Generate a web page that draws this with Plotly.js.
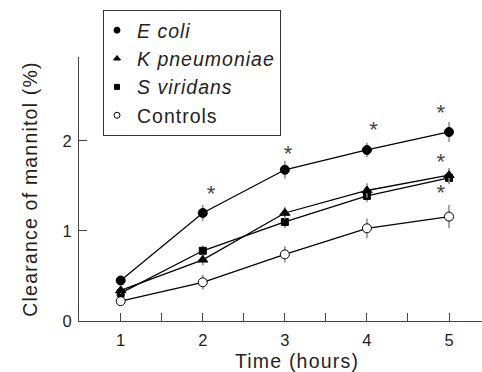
<!DOCTYPE html>
<html>
<head>
<meta charset="utf-8">
<script src="https://cdn.plot.ly/plotly-3.0.1.min.js"></script>
<style>
  html, body { margin: 0; padding: 0; overflow: hidden; background: #fff; }
  #chart { width: 515px; height: 372px; }
  .xtitle, .ytitle { letter-spacing: 1.2px; }
  .legendtext { letter-spacing: 1px; }
</style>
</head>
<body>
<div id="chart"></div>
<script>
// ---- data ----
const hours = [1, 2, 3, 4, 5];
const ecoli = [0.45, 1.20, 1.68, 1.90, 2.10];
const ecoliErr = [0.05, 0.09, 0.10, 0.08, 0.11];
const kpneumoniae = [0.34, 0.68, 1.20, 1.45, 1.62];
const kpneumoniaeErr = [0.04, 0.06, 0.07, 0.08, 0.08];
const sviridans = [0.31, 0.78, 1.10, 1.39, 1.59];
const sviridansErr = [0.04, 0.06, 0.07, 0.07, 0.07];
const controls = [0.22, 0.43, 0.74, 1.03, 1.16];
const controlsErr = [0.04, 0.08, 0.09, 0.11, 0.13];
// significance markers (asterisks)
const starX = [2.1, 3.04, 4.08, 4.9, 4.9, 4.9];
const starY = [1.39, 1.84, 2.11, 2.29, 1.75, 1.41];
const xTickVals = [1, 2, 3, 4, 5];
const yTickVals = [0, 1, 2];

const FONT = '"Liberation Sans", Arial, Helvetica, sans-serif';
const TXT = '#231f20';

function series(name, y, err, symbol, size, fill) {
  return {
    type: 'scatter', mode: 'lines+markers', name: name,
    x: hours, y: y, showlegend: false,
    line: {color: '#000', width: 1.3},
    marker: {symbol: symbol, size: size, color: fill, line: {color: '#000', width: 1}},
    error_y: {type: 'data', array: err, visible: true, color: '#8a8a8a', thickness: 1.5, width: 0}
  };
}
function legendEntry(name, symbol, size, fill) {
  return {
    type: 'scatter', mode: 'markers', name: name, x: [null], y: [null],
    marker: {symbol: symbol, size: size, color: fill, line: {color: '#000', width: 1}}
  };
}

const traces = [
  series('Controls', controls, controlsErr, 'circle', 9, '#fff'),
  series('S viridans', sviridans, sviridansErr, 'square', 7, '#000'),
  series('K pneumoniae', kpneumoniae, kpneumoniaeErr, 'triangle-up', 9, '#000'),
  series('E coli', ecoli, ecoliErr, 'circle', 9, '#000'),
  legendEntry('<i>E coli</i>', 'circle', 6, '#000'),
  legendEntry('<i>K pneumoniae</i>', 'triangle-up', 6, '#000'),
  legendEntry('<i>S viridans</i>', 'square', 5, '#000'),
  legendEntry('Controls', 'circle', 6, '#fff'),
  {
    type: 'scatter', mode: 'text', x: starX, y: starY, text: starX.map(() => '*'),
    textposition: 'middle center', showlegend: false, hoverinfo: 'skip',
    textfont: {family: FONT, size: 22, color: '#444'}
  }
];

const layout = {
  width: 515, height: 372,
  margin: {l: 79, r: 0, t: 57, b: 51, pad: 0},
  paper_bgcolor: '#fff', plot_bgcolor: '#fff',
  font: {family: FONT, color: TXT, size: 16},
  showlegend: true,
  legend: {
    x: (103 - 79) / 436, xanchor: 'left', y: 1 + (57 - 10) / 264, yanchor: 'top',
    bordercolor: '#333', borderwidth: 1, bgcolor: '#fff',
    font: {family: FONT, size: 19.5, color: TXT},
    itemwidth: 30, indentation: -7, traceorder: 'normal'
  },
  xaxis: {
    range: [0.492, 5.804], showgrid: false, zeroline: false,
    showline: true, linecolor: '#444', linewidth: 1,
    tickmode: 'array', tickvals: xTickVals, ticktext: xTickVals.map(String),
    ticks: 'inside', ticklen: 8, tickcolor: '#444', tickwidth: 1,
    minor: {tickmode: 'linear', tick0: 0.5, dtick: 1, ticks: 'inside', ticklen: 8, tickcolor: '#444', tickwidth: 1},
    tickfont: {size: 16.5, color: TXT}, ticklabelstandoff: 4,
    title: {text: 'Time (hours)', font: {size: 19.5, color: TXT}, standoff: 13},
    fixedrange: true
  },
  yaxis: {
    range: [0, 2.933], showgrid: false, zeroline: false,
    showline: true, linecolor: '#444', linewidth: 1,
    tickmode: 'array', tickvals: yTickVals, ticktext: yTickVals.map(String),
    ticks: 'inside', ticklen: 8, tickcolor: '#444', tickwidth: 1,
    tickfont: {size: 16.5, color: TXT}, ticklabelstandoff: 3,
    title: {text: 'Clearance of mannitol (%)', font: {size: 19.5, color: TXT}, standoff: 19},
    fixedrange: true
  }
};

Plotly.newPlot('chart', traces, layout, {displayModeBar: false, staticPlot: true});
</script>
</body>
</html>
